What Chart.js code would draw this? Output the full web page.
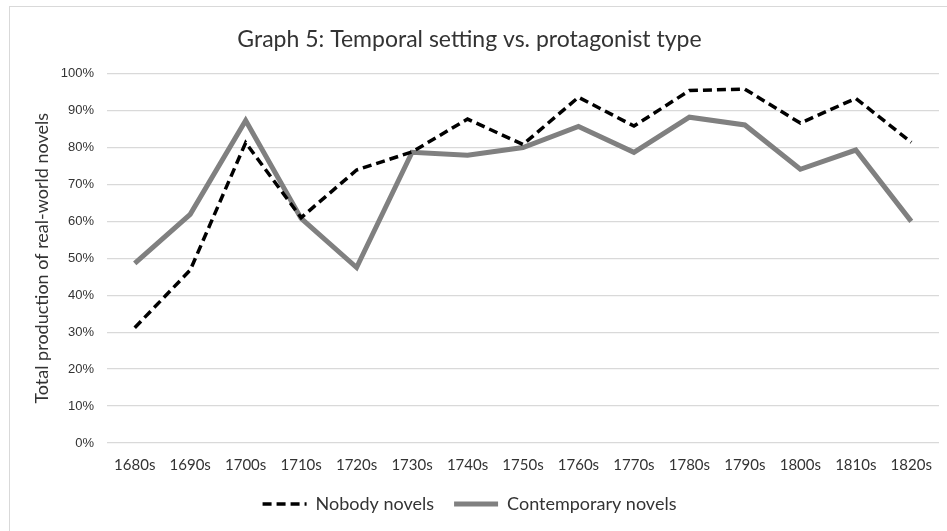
<!DOCTYPE html>
<html>
<head>
<meta charset="utf-8">
<script src="https://cdn.jsdelivr.net/npm/chart.js@4"></script>
<style>
  body { margin: 0; background: #fff; overflow: hidden; }
  #frame { position: absolute; left: 9px; top: 6px; width: 980px; height: 600px; border: 1px solid #d9d9d9; }
  #graph5 { position: absolute; left: 0; top: 0; }
</style>
</head>
<body>
<div id="frame"></div>
<canvas id="graph5" width="947" height="531"></canvas>
<script>
// decades on the x axis
const decades = ['1680s','1690s','1700s','1710s','1720s','1730s','1740s','1750s','1760s','1770s','1780s','1790s','1800s','1810s','1820s'];
// share of real-world novels, in percent
const nobodyNovels = [31.2, 46.8, 81.3, 61.0, 73.9, 78.8, 87.7, 80.8, 93.6, 85.8, 95.4, 95.8, 86.6, 93.3, 81.4];
const contemporaryNovels = [48.6, 61.9, 87.3, 60.8, 47.5, 78.7, 77.9, 80.0, 85.7, 78.7, 88.2, 86.1, 74.1, 79.3, 60.0];
const yTicks = [0, 10, 20, 30, 40, 50, 60, 70, 80, 90, 100];

const font = "Lato, 'Open Sans', sans-serif";
const textColor = '#333333';

function legendLabels(chart) {
    // use the line style of each dataset, not its point style
    return chart.data.datasets.map((ds, i) => ({
        text: ds.label,
        fillStyle: ds.borderColor,
        strokeStyle: ds.borderColor,
        fontColor: textColor,
        lineWidth: ds.borderWidth,
        lineDash: ds.borderDash || [],
        pointStyle: 'line',
        hidden: false,
        datasetIndex: i,
    }));
}

function makeChart(canvas) {
    let chartConfig = {
        type: 'line',
        data: {
            labels: decades,
            datasets: [
                {
                    label: 'Nobody novels',
                    data: nobodyNovels,
                    borderColor: '#000000',
                    backgroundColor: '#000000',
                    borderWidth: 3.5,
                    borderDash: [9, 5],
                    pointRadius: 0,
                    tension: 0,
                },
                {
                    label: 'Contemporary novels',
                    data: contemporaryNovels,
                    borderColor: '#808080',
                    backgroundColor: '#808080',
                    borderWidth: 5,
                    pointRadius: 0,
                    tension: 0,
                },
            ],
        },
        options: {
            responsive: false,
            animation: false,
            layout: { padding: { left: 0, right: 8, top: 0, bottom: 8 } },
            scales: {
                x: {
                    offset: true,
                    grid: { display: false, drawTicks: false },
                    border: { display: false },
                    ticks: { color: textColor, font: { family: font, size: 15 }, padding: 13, maxRotation: 0, autoSkip: false },
                    afterFit: (axis) => { axis.height = 32; },
                },
                y: {
                    min: 0,
                    max: 100,
                    afterBuildTicks: (axis) => { axis.ticks = yTicks.map(v => ({ value: v })); },
                    grid: { color: '#d9d9d9', lineWidth: 1.3, drawTicks: false },
                    border: { display: false },
                    ticks: { color: textColor, font: { family: "'Liberation Sans', Arial, sans-serif", size: 13 }, padding: 13, callback: (v) => v + '%' },
                    title: { display: true, text: 'Total production of real-world novels', color: textColor, font: { family: font, size: 18 }, padding: { top: 31, bottom: 0 } },
                    afterFit: (axis) => { axis.width = 107; },
                },
            },
            plugins: {
                title: {
                    display: true,
                    text: 'Graph 5: Temporal setting vs. protagonist type',
                    color: textColor,
                    font: { family: font, size: 23, weight: 'normal' },
                    padding: { top: 26, bottom: 20 },
                },
                legend: {
                    position: 'bottom',
                    labels: {
                        color: textColor,
                        font: { family: font, size: 18 },
                        usePointStyle: true,
                        pointStyle: 'line',
                        pointStyleWidth: 44,
                        boxWidth: 44,
                        padding: 20,
                        generateLabels: legendLabels,
                    },
                },
                tooltip: { enabled: false },
            },
        },
    };
    return new Chart(canvas, chartConfig);
}

makeChart(document.getElementById('graph5'));
</script>
</body>
</html>
